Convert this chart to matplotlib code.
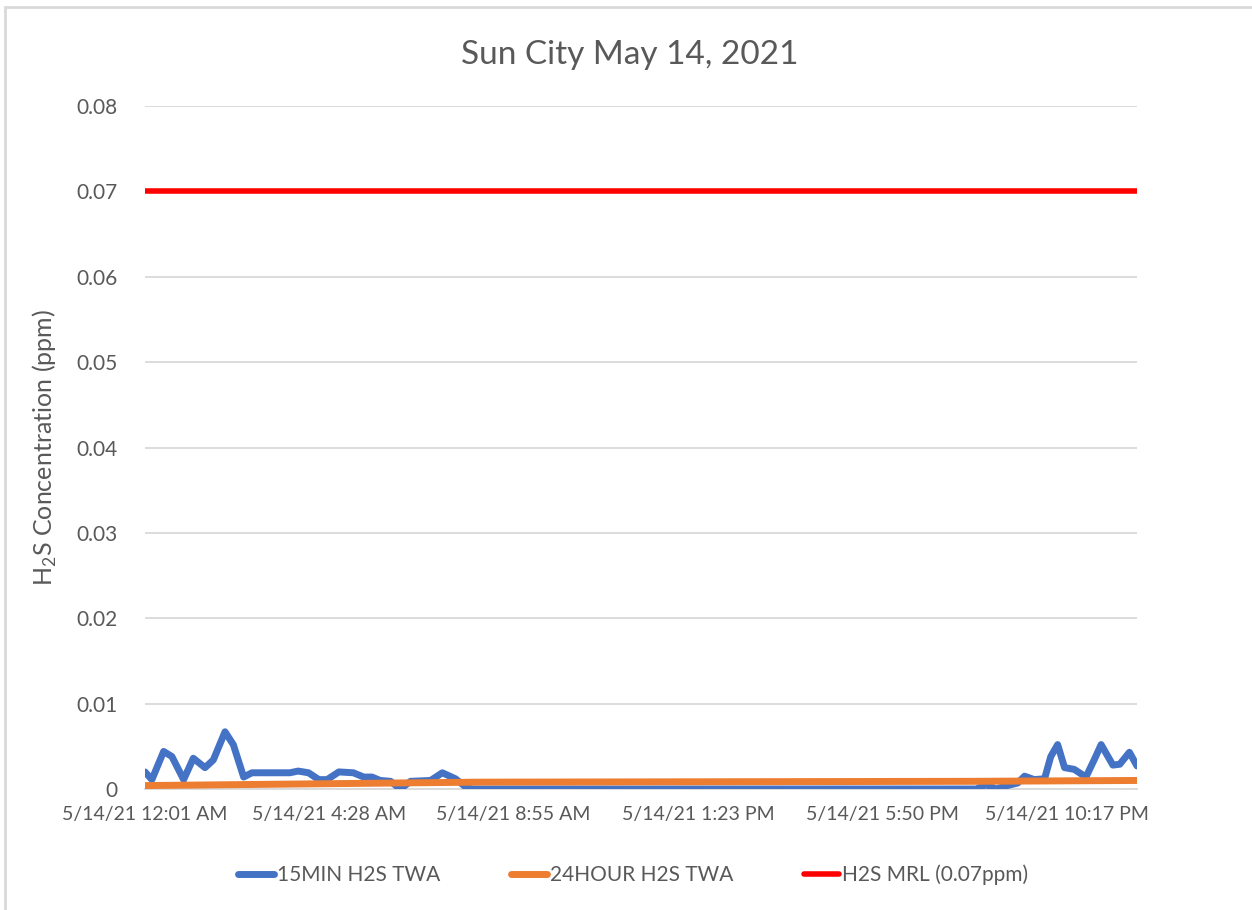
import matplotlib.pyplot as plt
from matplotlib.patches import Rectangle
import numpy as np

# minutes after 12:01 AM, 5/14/21
min15_t = [0, 10, 27, 39, 56, 70, 87, 99, 116, 128, 143, 155, 210, 222, 237,
           252, 264, 281, 302, 317, 329, 341, 356, 370, 385, 414, 431, 450,
           467, 476, 1205, 1219, 1234, 1245, 1265, 1275, 1289, 1304, 1313,
           1323, 1333, 1347, 1364, 1377, 1386, 1403, 1413, 1427, 1438]
min15_v = [0.0020, 0.0011, 0.0044, 0.0038, 0.0011, 0.0036, 0.0025, 0.0034,
           0.0067, 0.0052, 0.0014, 0.0019, 0.0019, 0.0021, 0.0019, 0.0011,
           0.0011, 0.0020, 0.0019, 0.0014, 0.0014, 0.0010, 0.0009, 0.0000,
           0.0009, 0.0010, 0.0019, 0.0012, 0.0001, 0.0000, 0.0000, 0.0005,
           0.0000, 0.0003, 0.0007, 0.0015, 0.0011, 0.0012, 0.0038, 0.0052,
           0.0025, 0.0023, 0.0014, 0.0036, 0.0052, 0.0028, 0.0029, 0.0043,
           0.0027]

hour24_t = [0, 480, 1200, 1438]
hour24_v = [0.0004, 0.0008, 0.0009, 0.0010]

mrl_t = [0, 1438]
mrl_v = [0.07, 0.07]

tick_t = [0, 267, 534, 802, 1069, 1336]
tick_lbl = ['5/14/21 12:01 AM', '5/14/21 4:28 AM', '5/14/21 8:55 AM',
            '5/14/21 1:23 PM', '5/14/21 5:50 PM', '5/14/21 10:17 PM']
y_ticks = [0, 0.01, 0.02, 0.03, 0.04, 0.05, 0.06, 0.07, 0.08]
y_lbl = ['0', '0.01', '0.02', '0.03', '0.04', '0.05', '0.06', '0.07', '0.08']

plt.rcParams['font.family'] = ['Lato', 'DejaVu Sans']
plt.rcParams['mathtext.fontset'] = 'custom'
plt.rcParams['mathtext.rm'] = 'Lato'
txt = '#595959'

fig = plt.figure(figsize=(12.52, 9.10), dpi=100)
fig.add_artist(Rectangle((5 / 1252, -0.1), 1.2, 1 - 7 / 910 + 0.1,
                         transform=fig.transFigure, fill=False,
                         edgecolor='#d9d9d9', linewidth=2))
ax = fig.add_axes([145 / 1252, 1 - 789 / 910, 992 / 1252, 683 / 910])

ax.plot(min15_t, min15_v, color='#4472C4', lw=5, solid_capstyle='round',
        solid_joinstyle='round', label='15MIN H2S TWA', zorder=3)
ax.plot(hour24_t, hour24_v, color='#ED7D31', lw=5, solid_capstyle='round',
        label='24HOUR H2S TWA', zorder=4)
ax.plot(mrl_t, mrl_v, color='#FF0000', lw=4, solid_capstyle='round',
        label='H2S MRL (0.07ppm)', zorder=4)

ax.set_xlim(0, 1438)
ax.set_ylim(0, 0.08)
ax.set_yticks(y_ticks)
ax.set_yticklabels(y_lbl)
ax.set_xticks(tick_t)
ax.set_xticklabels(tick_lbl)
ax.tick_params(length=0, labelsize=14, colors=txt, pad=12)
ax.tick_params(axis='y', labelsize=15, pad=20)
ax.grid(axis='y', color='#d9d9d9', lw=1.3)
ax.set_axisbelow(True)
for s in ['top', 'right', 'left']:
    ax.spines[s].set_visible(False)
ax.spines['bottom'].set_color('#d9d9d9')
ax.spines['bottom'].set_linewidth(1.3)

ax.set_ylabel(r'H$_\mathrm{2}$S Concentration (ppm)', fontsize=18, color=txt,
              labelpad=12)
ax.set_title('Sun City May 14, 2021', fontsize=24, color=txt, pad=30, x=0.489)

leg = fig.legend(loc='center', bbox_to_anchor=(0.506, 1 - 875 / 910), ncol=3,
                 frameon=False, fontsize=15, handlelength=1.7,
                 columnspacing=3.4, handletextpad=0.15)
for t in leg.get_texts():
    t.set_color(txt)

fig.savefig('out.png', dpi=100)
